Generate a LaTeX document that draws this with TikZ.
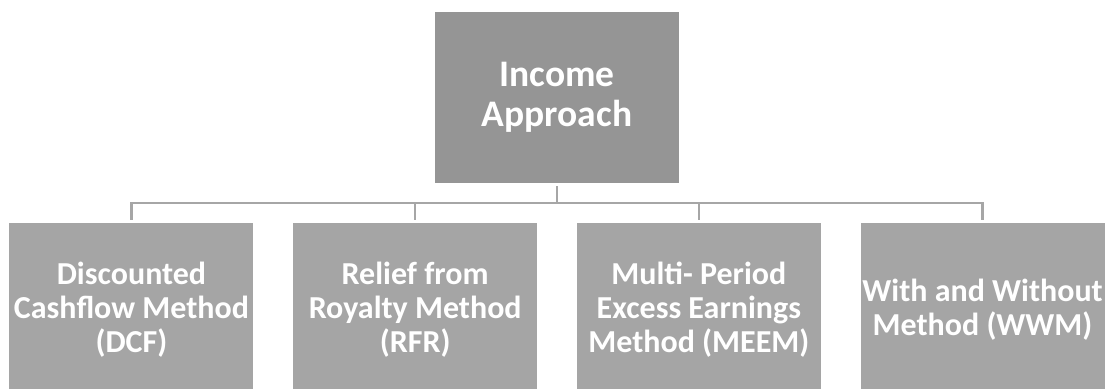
\documentclass[tikz,border=0pt]{standalone}
\usepackage{fontspec}
\setmainfont{Carlito}
\usepackage{tikz}

\definecolor{topgray}{HTML}{959595}
\definecolor{boxgray}{HTML}{A5A5A5}
\definecolor{linegray}{HTML}{A6A6A6}

\begin{document}
\begin{tikzpicture}[
  level distance = 212.5bp,
  level 1/.style = {sibling distance = 283.7bp},
  approach/.style = {fill=topgray, text=white, font=\bfseries\fontsize{37.5bp}{40bp}\selectfont,
    align=center, minimum width=244bp, minimum height=171bp, inner sep=0pt, outer sep=3bp},
  method/.style = {fill=boxgray, text=white, font=\bfseries\fontsize{32bp}{34bp}\selectfont,
    align=center, minimum width=244bp, minimum height=174bp, inner sep=0pt, outer sep=3bp},
  edge from parent/.style = {draw=linegray, line width=2.2bp},
  edge from parent path = {(\tikzparentnode.south) -- ++(0,-17bp) -| (\tikzchildnode.north)}
]

\useasboundingbox (0,0) rectangle (1110bp,-389bp);

\node[approach] (income) at (557bp,-97.5bp) {Income\\Approach}
  child {
    node[method] (dcf) {Discounted\\Cashflow Method\\(DCF)}
  }
  child {
    node[method] (rfr) {Relief from\\Royalty Method\\(RFR)}
  }
  child {
    node[method] (meem) {Multi- Period\\Excess Earnings\\Method (MEEM)}
  }
  child {
    node[method] (wwm) {With and Without\\Method (WWM)}
  };

\end{tikzpicture}
\end{document}
